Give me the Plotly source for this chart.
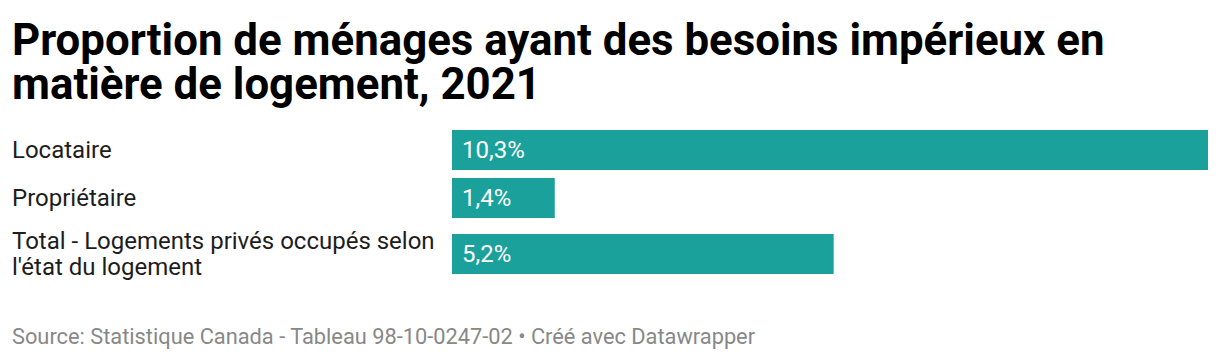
import plotly.graph_objects as go

# Data
categories = ["Locataire", "Propriétaire", "Total - Logements privés occupés selon\nl'état du logement"]
values = [10.3, 1.4, 5.2]
value_labels = ["10,3%", "1,4%", "5,2%"]
title_lines = ["Proportion de ménages ayant des besoins impérieux en", "matière de logement, 2021"]
source_text = "Source: Statistique Canada - Tableau 98-10-0247-02 • Créé avec Datawrapper"

# Layout (row centres in pixel units of the plot area)
row_pos = [150, 198, 254]
BAR_COLOR = "#1ba19c"
W, H = 1220, 360
top, bottom = 120, 290


def py(p):
    """pixel row -> paper y"""
    return (bottom - p) / (bottom - top)


fig = go.Figure()
fig.add_trace(go.Bar(
    x=values, y=row_pos, orientation="h", width=40,
    marker=dict(color=BAR_COLOR, line=dict(width=0)),
    hoverinfo="skip",
))

annotations = []
LINE_H = 26
for cat, pos in zip(categories, row_pos):
    lines = cat.split("\n")
    n = len(lines)
    for i, ln in enumerate(lines):
        ypix = pos + (i - (n - 1) / 2) * LINE_H
        annotations.append(dict(
            text=ln, x=0, xref="paper", y=ypix, yref="y", xshift=-2,
            xanchor="left", yanchor="middle", align="left", showarrow=False,
            font=dict(family="Roboto", size=24, color="#1d1d1d"),
        ))
for lab, pos in zip(value_labels, row_pos):
    annotations.append(dict(
        text=lab, x=0, xref="x", y=pos, yref="y", xshift=8,
        xanchor="left", yanchor="middle", showarrow=False,
        font=dict(family="Roboto", size=24, color="white"),
    ))
title_y = [40, 84]
for ln, yp in zip(title_lines, title_y):
    annotations.append(dict(
        text="<b>" + ln + "</b>", x=0, xref="paper", y=py(yp), yref="paper", xshift=-2,
        xanchor="left", yanchor="middle", showarrow=False,
        font=dict(family="Roboto", size=43.8, color="#000000"),
    ))
annotations.append(dict(
    text=source_text,
    x=0, xref="paper", y=py(336), yref="paper", xshift=-2,
    xanchor="left", yanchor="middle", showarrow=False,
    font=dict(family="Roboto", size=21.8, color="#888888"),
))

fig.update_layout(
    width=W, height=H,
    margin=dict(l=12, r=12, t=top, b=H - bottom, pad=0),
    paper_bgcolor="white", plot_bgcolor="white",
    showlegend=False,
    xaxis=dict(domain=[440 / 1196, 1], range=[0, max(values)], visible=False, fixedrange=True),
    yaxis=dict(range=[bottom, top], visible=False, fixedrange=True),
    annotations=annotations,
)

fig.write_html("out.html", post_script="document.body.style.margin='0';",
               config={"displayModeBar": False})
